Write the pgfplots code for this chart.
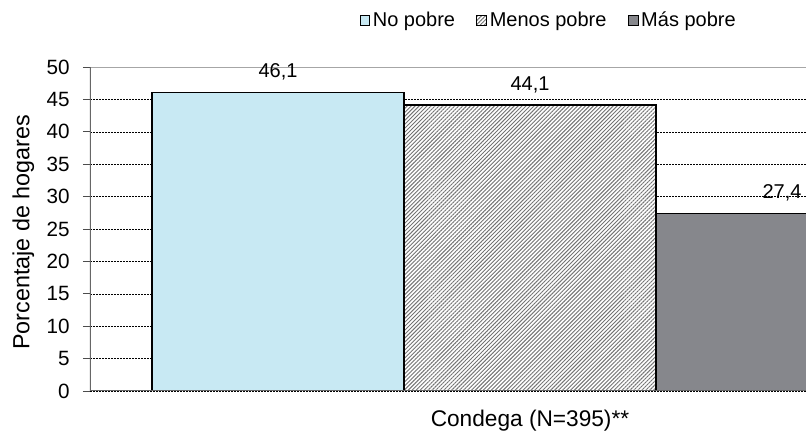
\documentclass[border=0pt]{standalone}
\usepackage{fontspec}
\setmainfont{Liberation Sans}
\usepackage{pgfplots}
\pgfplotsset{compat=1.18}
\usetikzlibrary{patterns,patterns.meta}
\definecolor{nopobre}{RGB}{200,233,243}
\definecolor{maspobre}{RGB}{134,135,140}
\definecolor{hatchc}{RGB}{115,115,115}
\pgfplotsset{
 sqleg/.style={legend image code/.code={\draw[##1, line width=0.6pt] (0pt,-3.7pt) rectangle (7.4pt,3.7pt);}}
}
\begin{document}
\begin{tikzpicture}
\begin{axis}[
 name=ax, scale only axis,
 width=537pt, height=243pt,
 xmin=90, xmax=806, ymin=0, ymax=50,
 ytick={0,5,...,50}, xtick=\empty, ytick pos=left,
 ymajorgrids,
 major grid style={black, line width=0.4pt, dash pattern=on 1.5pt off 0.75pt},
 axis line style={draw=none},
 tick align=outside, major tick length=5.25pt,
 tick style={black!70, line width=0.5pt},
 /pgf/number format/assume math mode=true,
 yticklabel style={font=\fontsize{15.5}{17}\selectfont, xshift=-6.5pt},
 ylabel={Porcentaje de hogares},
 ylabel style={font=\fontsize{17.5}{19}\selectfont, at={(axis description cs:-0.093,0.49)}, anchor=center},
 xlabel={Condega (N=395)**},
 xlabel style={font=\fontsize{17}{19}\selectfont, at={(axis description cs:0.6145,0)}, anchor=center, yshift=-22.5pt},
 ybar, bar shift=0pt, bar width=252,
 nodes near coords={\pgfmathprintnumber[fixed,fixed zerofill,precision=1,use comma,assume math mode=true]{\pgfplotspointmeta}},
 nodes near coords style={font=\fontsize{15}{17}\selectfont, text=black, inner sep=2.5pt, yshift=6pt},
 legend columns=3,
 legend style={at={(axis description cs:0.641,1.145)}, anchor=center, draw=none, fill=none,
   font=\fontsize{15}{17}\selectfont,
   /tikz/every even column/.append style={column sep=14pt},
   inner sep=0pt, nodes={inner xsep=2pt}},
]
\addplot[fill=nopobre, draw=black, line width=1.1pt, sqleg] coordinates {(278,46.1)};
\addlegendentry{No pobre}
\addplot[fill=white, draw=black, line width=1.1pt, postaction={pattern={Lines[angle=45,distance=2.1pt,line width=0.7pt]}, pattern color=hatchc}, sqleg] coordinates {(530,44.1)};
\addlegendentry{Menos pobre}
\addplot[fill=maspobre, draw=black, line width=1.1pt, sqleg] coordinates {(782,27.4)};
\addlegendentry{Más pobre}
\draw[black!35, line width=0.6pt] (rel axis cs:0,1) -- (rel axis cs:1,1);
\draw[black!60, line width=0.8pt] (rel axis cs:0,0) -- (rel axis cs:0,1);
\draw[black!60, line width=0.8pt] (rel axis cs:0,0) -- (rel axis cs:1,0);
\coordinate (O) at (rel axis cs:0,0);
\end{axis}
\pgfresetboundingbox
\path[use as bounding box] ([xshift=-67.5pt,yshift=-35.25pt]O) rectangle ++(604.5pt,328.5pt);
\end{tikzpicture}
\end{document}
